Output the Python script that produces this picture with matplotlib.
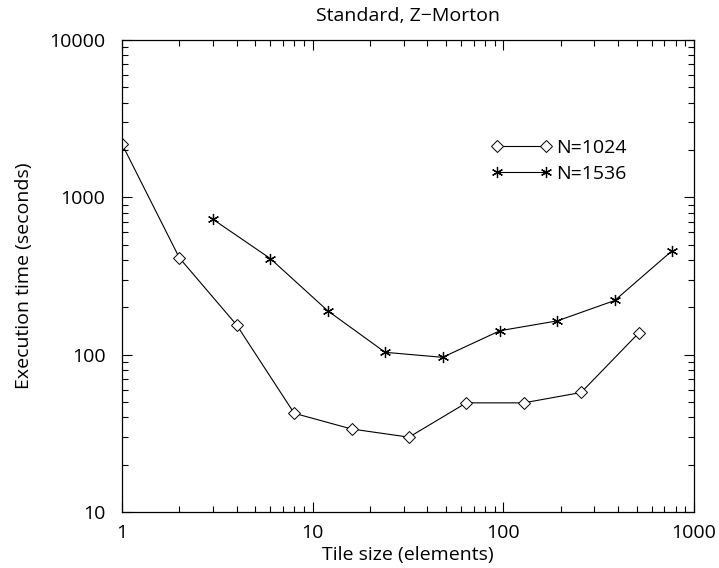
import matplotlib
matplotlib.use("Agg")
import matplotlib.pyplot as plt
from matplotlib.ticker import LogLocator, FixedLocator, NullFormatter

plt.rcParams['font.family'] = ['Open Sans', 'DejaVu Sans']

# Tile sizes and execution times
tile_1024 = [1, 2, 4, 8, 16, 32, 64, 128, 256, 512]
time_1024 = [2180, 412, 154, 42.4, 33.7, 29.9, 49.4, 49.4, 57.5, 137]

tile_1536 = [3, 6, 12, 24, 48, 96, 192, 384, 768]
time_1536 = [725, 408, 190, 103.5, 96.2, 142, 164, 221, 458]

x_ticks = [1, 10, 100, 1000]
x_tick_labels = ['1', '10', '100', '1000']
y_ticks = [10, 100, 1000, 10000]
y_tick_labels = ['10', '100', '1000', '10000']

fig = plt.figure(figsize=(7.19, 5.68), dpi=100)
ax = fig.add_axes([122 / 719, 1 - 512 / 568, (694 - 122) / 719, (512 - 40) / 568])

ax.plot(tile_1024, time_1024, color='black', linewidth=0.8,
        marker='D', markersize=6, markerfacecolor='white',
        markeredgecolor='black', markeredgewidth=0.7, label='N=1024')
ax.plot(tile_1536, time_1536, color='black', linewidth=0.8,
        marker=(6, 2, 0), markersize=8, markeredgewidth=0.9,
        label='N=1536')

ax.set_xscale('log')
ax.set_yscale('log')
ax.set_xlim(1, 1000)
ax.set_ylim(10, 10000)

ax.xaxis.set_major_locator(FixedLocator(x_ticks))
ax.set_xticklabels(x_tick_labels)
ax.yaxis.set_major_locator(FixedLocator(y_ticks))
ax.set_yticklabels(y_tick_labels)
ax.xaxis.set_minor_locator(LogLocator(base=10, subs=range(2, 10)))
ax.yaxis.set_minor_locator(LogLocator(base=10, subs=range(2, 10)))
ax.xaxis.set_minor_formatter(NullFormatter())
ax.yaxis.set_minor_formatter(NullFormatter())

ax.tick_params(which='both', direction='in', top=True, right=True,
               labelsize=14, width=0.8, colors='black')
ax.tick_params(which='major', length=7)
ax.tick_params(which='minor', length=4)
ax.tick_params(axis='y', which='major', pad=12)
ax.tick_params(axis='x', which='major', pad=9)
for spine in ax.spines.values():
    spine.set_linewidth(0.9)

ax.set_title('Standard, Z\u2212Morton', fontsize=14, y=1.0, pad=14)
ax.set_xlabel('Tile size (elements)', fontsize=14)
ax.xaxis.set_label_coords(0.5, (512 - 546) / 472)
ax.set_ylabel('Execution time (seconds)', fontsize=14)
ax.yaxis.set_label_coords((33 - 122) / 572, 0.5)

ax.legend(loc='upper left', bbox_to_anchor=(0.631, 0.807), frameon=False,
          fontsize=14, numpoints=2, handlelength=3.13, handletextpad=0.25,
          labelspacing=0.42, borderaxespad=0)

fig.savefig('out.png', dpi=100)
